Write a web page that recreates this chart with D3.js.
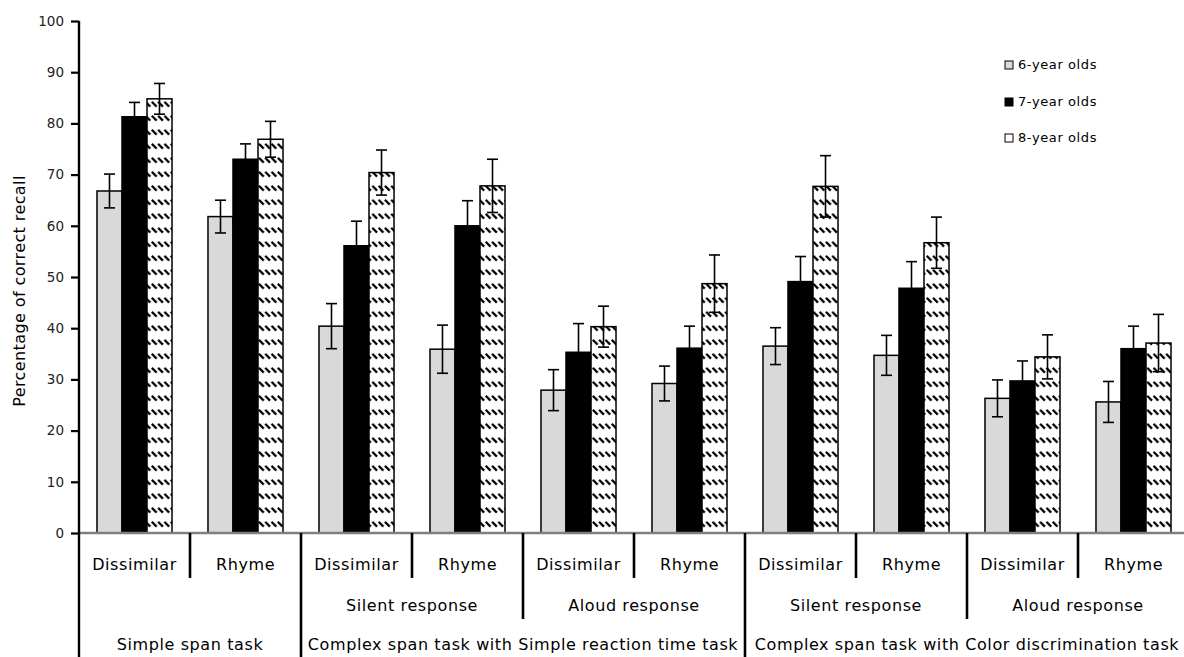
<!DOCTYPE html>
<html>
<head>
<meta charset="utf-8">
<script src="https://cdn.jsdelivr.net/npm/d3@7/dist/d3.min.js"></script>
<style>
  html, body { margin: 0; padding: 0; background: #fff; }
  svg { display: block; font-family: "DejaVu Sans", Verdana, sans-serif; }
</style>
</head>
<body>
<svg id="chart" width="1184" height="657"></svg>
<script>
// ---------- data ----------
const categories = ["Dissimilar","Rhyme","Dissimilar","Rhyme","Dissimilar","Rhyme","Dissimilar","Rhyme","Dissimilar","Rhyme"];
const responseGroups = ["", "Silent response", "Aloud response", "Silent response", "Aloud response"]; // each spans 2 categories
const taskGroups = ["Simple span task", "Complex span task with Simple reaction time task", "Complex span task with Color discrimination task"];
const taskSpans = [2, 4, 4];
const seriesNames = ["6-year olds", "7-year olds", "8-year olds"];
const age6 = [66.8, 61.8, 40.4, 35.9, 27.9, 29.2, 36.5, 34.7, 26.3, 25.6];
const age7 = [81.3, 73.0, 56.1, 60.0, 35.3, 36.1, 49.1, 47.8, 29.7, 36.0];
const age8 = [84.8, 76.9, 70.4, 67.8, 40.3, 48.7, 67.7, 56.7, 34.4, 37.1];
const err6 = [3.3, 3.2, 4.4, 4.7, 4.0, 3.4, 3.6, 3.9, 3.6, 4.0];
const err7 = [2.8, 3.0, 4.8, 4.9, 5.6, 4.3, 4.9, 5.2, 3.9, 4.4];
const err8 = [3.0, 3.5, 4.4, 5.2, 4.0, 5.6, 6.0, 5.0, 4.3, 5.6];
const yTicks = [0,10,20,30,40,50,60,70,80,90,100];

(function () {
const values = [age6, age7, age8];
const errors = [err6, err7, err8];

// ---------- layout ----------
const svg = d3.select("#chart");
const W = 1184, H = 657;
const mLeft = 79, mRight = 1189, mTop = 21, base = 533;

const x = d3.scaleBand().domain(d3.range(categories.length)).range([mLeft, mRight]).padding(0);
const groupW = x.bandwidth() * 0.676;
const x1 = d3.scaleBand().domain(d3.range(seriesNames.length))
  .range([(x.bandwidth() - groupW) / 2, (x.bandwidth() + groupW) / 2]).padding(0);
const y = d3.scaleLinear().domain([0, 100]).range([base, mTop]);

// pattern
const defs = svg.append("defs");
const pat = defs.append("pattern").attr("id", "hatch").attr("patternUnits", "userSpaceOnUse")
  .attr("width", 6.3).attr("height", 14).attr("x", 0).attr("y", 3);
pat.append("rect").attr("width", 6.3).attr("height", 14).attr("fill", "#fff");
pat.append("path").attr("d", "M0.6,0.8 L5.4,5.6").attr("stroke", "#000").attr("stroke-width", 2.2).attr("stroke-linecap", "butt");

const fills = ["#d9d9d9", "#000000", "url(#hatch)"];

// y axis
const yAxis = d3.axisLeft(y).tickValues(yTicks).tickSize(8).tickPadding(7).tickFormat(d3.format("d"));
const gy = svg.append("g").attr("transform", `translate(${mLeft},0)`).call(yAxis);
gy.select(".domain").remove();
gy.selectAll(".tick line").attr("stroke", "#000").attr("stroke-width", 2.2);
gy.selectAll(".tick text").attr("fill", "#222").style("font-size", "13.5px").style("font-family", "DejaVu Sans, Verdana, sans-serif");

// y title
svg.append("text")
  .attr("transform", `translate(20,291) rotate(-90)`)
  .attr("text-anchor", "middle").attr("dominant-baseline", "middle")
  .style("font-size", "16px").style("letter-spacing", "0.4px").attr("fill", "#000")
  .text("Percentage of correct recall");

// bars
const barsG = svg.append("g");
seriesNames.forEach((s, si) => {
  barsG.selectAll(null).data(values[si]).enter().append("rect")
    .attr("x", (d, i) => x(i) + x1(si))
    .attr("y", d => y(d))
    .attr("width", x1.bandwidth())
    .attr("height", d => y(0) - y(d))
    .attr("fill", fills[si])
    .attr("stroke", "#000").attr("stroke-width", 1.5);
});

// error bars
const capW = 11;
seriesNames.forEach((s, si) => {
  const g = svg.append("g").attr("stroke", "#000").attr("stroke-width", 1.6);
  values[si].forEach((v, i) => {
    const cx = x(i) + x1(si) + x1.bandwidth() / 2;
    const e = errors[si][i];
    g.append("line").attr("x1", cx).attr("x2", cx).attr("y1", y(v + e)).attr("y2", y(v - e));
    g.append("line").attr("x1", cx - capW / 2).attr("x2", cx + capW / 2).attr("y1", y(v + e)).attr("y2", y(v + e));
    g.append("line").attr("x1", cx - capW / 2).attr("x2", cx + capW / 2).attr("y1", y(v - e)).attr("y2", y(v - e));
  });
});

// x baseline
svg.append("line").attr("x1", mLeft).attr("x2", W).attr("y1", base).attr("y2", base)
  .attr("stroke", "#7f7f7f").attr("stroke-width", 2.4);
// y axis line (extends below)
svg.append("line").attr("x1", mLeft).attr("x2", mLeft).attr("y1", mTop).attr("y2", H)
  .attr("stroke", "#000").attr("stroke-width", 2.4);

// category labels
const row1 = 565, row2 = 606, row3 = 645;
const labStyle = sel => sel.attr("text-anchor", "middle").attr("dominant-baseline", "middle")
  .style("font-size", "16px").style("letter-spacing", "0.6px").attr("fill", "#000");
svg.append("g").selectAll("text").data(categories).enter().append("text")
  .attr("x", (d, i) => x(i) + x.bandwidth() / 2).attr("y", row1)
  .call(labStyle).text(d => d);

// response group labels
svg.append("g").selectAll("text").data(responseGroups).enter().append("text")
  .attr("x", (d, i) => x(i * 2) + x.bandwidth())
  .attr("y", row2)
  .call(labStyle).text(d => d);

// task labels
let startIdx = 0;
const taskStarts = taskSpans.map(s => { const v = startIdx; startIdx += s; return v; });
svg.append("g").selectAll("text").data(taskGroups).enter().append("text")
  .attr("x", (d, i) => {
    const a = x(taskStarts[i]);
    const b = x(taskStarts[i] + taskSpans[i] - 1) + x.bandwidth();
    return (a + b) / 2;
  })
  .attr("y", row3)
  .call(labStyle).text(d => d);

// dividers
const div = svg.append("g").attr("stroke", "#000").attr("stroke-width", 2.6);
d3.range(0, categories.length, 2).forEach(i => {
  const xx = x(i) + x.bandwidth();
  div.append("line").attr("x1", xx).attr("x2", xx).attr("y1", base).attr("y2", 578);
});
const taskBoundaries = taskStarts.slice(1);
d3.range(2, categories.length, 2).forEach(i => {
  const xx = x(i);
  const major = taskBoundaries.includes(i);
  div.append("line").attr("x1", xx).attr("x2", xx).attr("y1", base).attr("y2", major ? H : 619);
});

// legend
const legend = svg.append("g");
const legY = [65, 102, 138];
seriesNames.forEach((s, si) => {
  legend.append("rect").attr("x", 1005).attr("y", legY[si] - 4).attr("width", 8).attr("height", 8)
    .attr("fill", si === 2 ? "#fff" : fills[si]).attr("stroke", "#000").attr("stroke-width", 1);
  legend.append("text").attr("x", 1018).attr("y", legY[si]).attr("dominant-baseline", "middle")
    .style("font-size", "13px").style("letter-spacing", "0.6px").attr("fill", "#000").text(s);
});
})();
</script>
</body>
</html>
